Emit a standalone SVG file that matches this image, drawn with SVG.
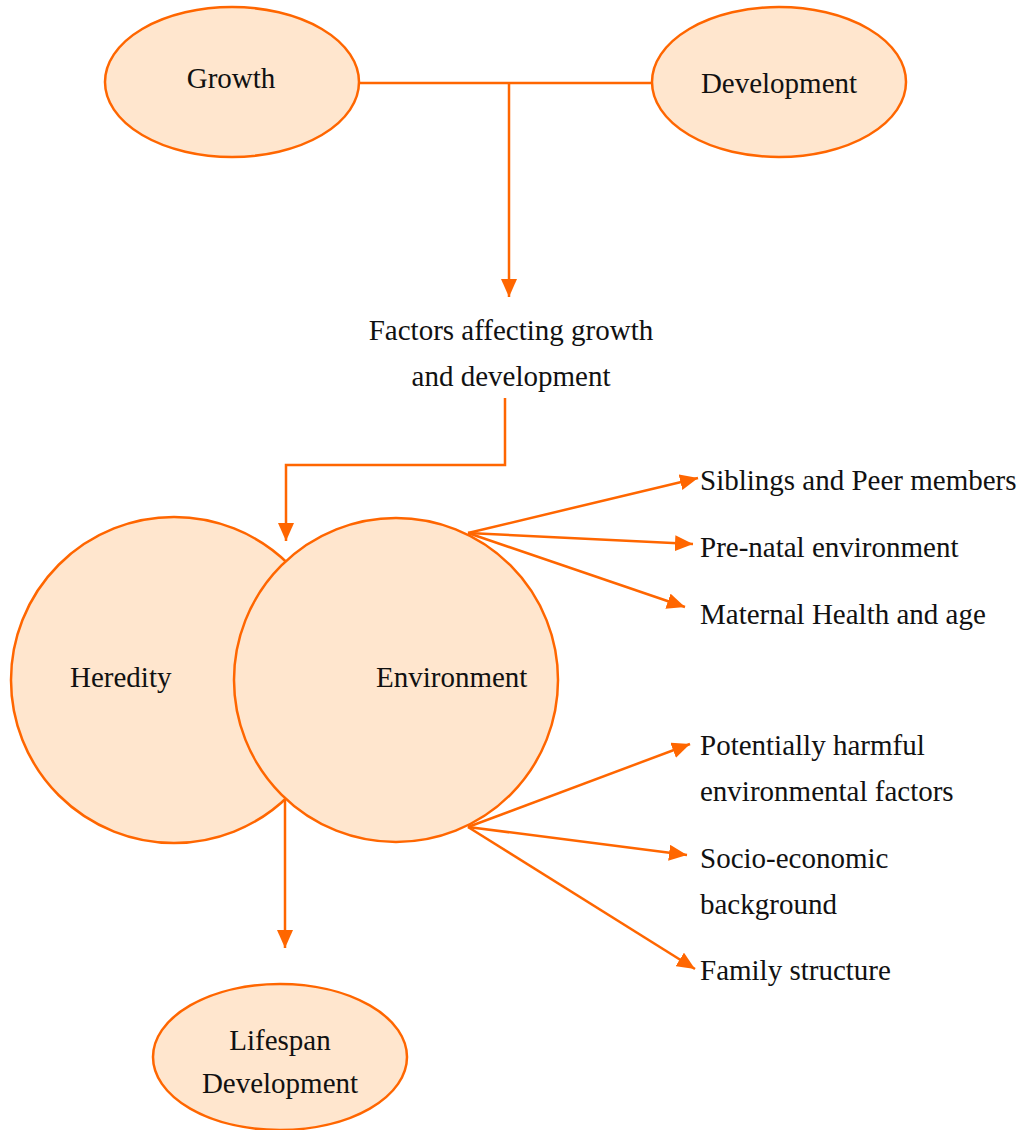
<svg xmlns="http://www.w3.org/2000/svg" width="1029" height="1130" viewBox="0 0 1029 1130">
<defs>
<style>
.n{fill:#FFE6CE;stroke:#FF6600;stroke-width:2.5}
.c{fill:none;stroke:#FF6600;stroke-width:2.5}
text{font-family:"Liberation Serif","Times New Roman",serif;font-size:29px;fill:#111}
.m{text-anchor:middle}
</style>
<marker id="ah" markerUnits="userSpaceOnUse" markerWidth="20" markerHeight="16" refX="18" refY="8" orient="auto" viewBox="0 0 20 16">
<path d="M0,0 L18,8 L0,16 z" fill="#FF6600"/>
</marker>
</defs>
<rect width="1029" height="1130" fill="#fff"/>
<g id="connectors">
<path class="c" d="M360,83 H652"/>
<path class="c" d="M509,83 V297" marker-end="url(#ah)"/>
<path class="c" d="M505,398 V465 H286 V541" marker-end="url(#ah)"/>
</g>
<g id="growth"><ellipse class="n" cx="232" cy="82" rx="127" ry="75"/><text class="m" x="231" y="88">Growth</text></g>
<g id="development"><ellipse class="n" cx="779" cy="82" rx="127" ry="75"/><text class="m" x="779" y="93">Development</text></g>
<g id="factors"><text class="m" x="511" y="340">Factors affecting growth</text><text class="m" x="511" y="386">and development</text></g>
<g id="heredity"><circle class="n" cx="174" cy="680" r="163"/><text x="70" y="687">Heredity</text></g>
<g id="environment"><circle class="n" cx="396" cy="680" r="162"/><text x="376" y="687">Environment</text></g>
<g id="connectors2">
<path class="c" d="M468,533 L698,478" marker-end="url(#ah)"/>
<path class="c" d="M468,533 L693,544" marker-end="url(#ah)"/>
<path class="c" d="M468,533 L685,607" marker-end="url(#ah)"/>
<path class="c" d="M468,827 L690,744" marker-end="url(#ah)"/>
<path class="c" d="M468,827 L687,855" marker-end="url(#ah)"/>
<path class="c" d="M468,827 L695,969" marker-end="url(#ah)"/>
<path class="c" d="M285,800 V948" marker-end="url(#ah)"/>
</g>
<g id="siblings"><text x="700" y="490">Siblings and Peer members</text></g>
<g id="prenatal"><text x="700" y="557">Pre-natal environment</text></g>
<g id="maternal"><text x="700" y="624">Maternal Health and age</text></g>
<g id="harmful"><text x="700" y="755">Potentially harmful</text><text x="700" y="801">environmental factors</text></g>
<g id="socio"><text x="700" y="868">Socio-economic</text><text x="700" y="914">background</text></g>
<g id="family"><text x="700" y="980">Family structure</text></g>
<g id="lifespan"><ellipse class="n" cx="280" cy="1057" rx="127" ry="73"/><text class="m" x="280" y="1050">Lifespan</text><text class="m" x="280" y="1093">Development</text></g>
</svg>
